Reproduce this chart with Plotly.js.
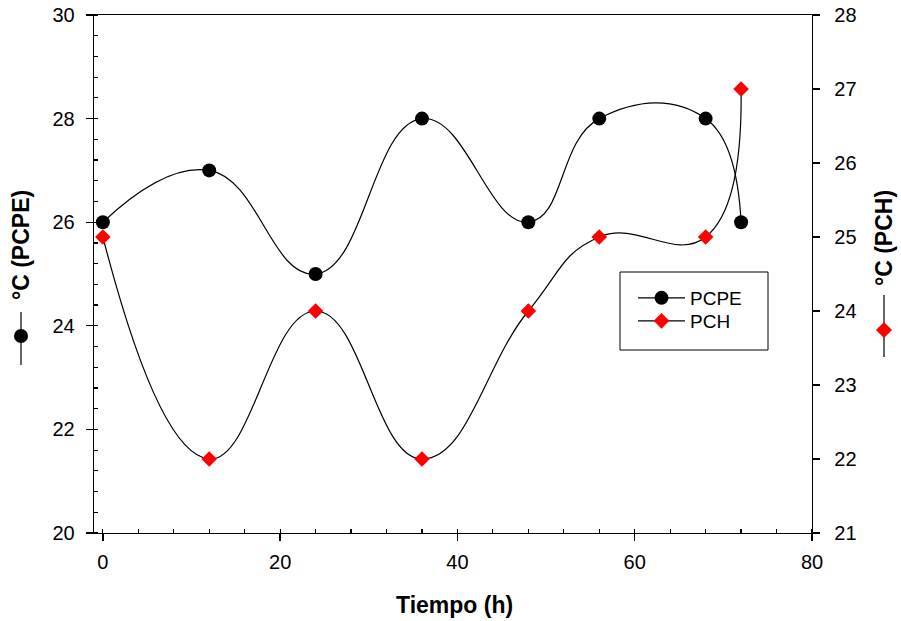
<!DOCTYPE html>
<html>
<head>
<meta charset="utf-8">
<script src="https://cdn.plot.ly/plotly-3.0.1.min.js"></script>
<style>html,body{margin:0;padding:0;background:#fff;}#chart{width:901px;height:621px;}</style>
</head>
<body>
<div id="chart"></div>
<script>
// Data
const tiempoH = [0, 12, 24, 36, 48, 56, 68, 72];
const pcpe = [26, 27, 25, 28, 26, 28, 28, 26];
const pch = [25, 22, 24, 22, 24, 25, 25, 27];
const seriesNames = ['PCPE', 'PCH'];
const xTitle = 'Tiempo (h)';
const yTitleLeft = '°C (PCPE)';
const yTitleRight = '°C (PCH)';

const FONT = 'Liberation Sans, Arial, sans-serif';
const L = 94, R = 812, T = 15, B = 533;
const W = 901, H = 621;
const px = v => (v - L) / (R - L);
const py = v => (B - v) / (B - T);

const traces = [
  {
    x: tiempoH, y: pcpe, name: seriesNames[0], type: 'scatter', mode: 'lines+markers',
    line: {color: '#000', width: 1.2, shape: 'spline', smoothing: 1.3},
    marker: {symbol: 'circle', size: 14, color: '#000'},
    xaxis: 'x', yaxis: 'y', legend: 'legend'
  },
  {
    x: tiempoH, y: pch, name: seriesNames[1], type: 'scatter', mode: 'lines+markers',
    line: {color: '#000', width: 1.2, shape: 'spline', smoothing: 1.3},
    marker: {symbol: 'diamond', size: 12, color: '#ff0000'},
    xaxis: 'x', yaxis: 'y2', legend: 'legend2'
  }
];

const legendBase = {
  xanchor: 'left', yanchor: 'top',
  bgcolor: 'rgba(0,0,0,0)', borderwidth: 0,
  font: {family: FONT, size: 19, color: '#000'},
  itemwidth: 47, tracegroupgap: 0
};

const layout = {
  width: W, height: H,
  margin: {l: L, r: W - R, t: T, b: H - B, pad: 0},
  paper_bgcolor: '#fff', plot_bgcolor: '#fff',
  font: {family: FONT, size: 20, color: '#000'},
  showlegend: true,
  legend: Object.assign({}, legendBase, {x: px(633), y: py(279)}),
  legend2: Object.assign({}, legendBase, {x: px(633), y: py(302)}),
  xaxis: {
    range: [-1, 80], dtick: 20, tick0: 0,
    showgrid: false, zeroline: false,
    showline: true, linecolor: '#000', linewidth: 1.3, mirror: true,
    ticks: 'outside', ticklen: 7, tickwidth: 1.3, tickcolor: '#000',
    tickfont: {family: FONT, size: 20, color: '#000'},
    ticklabelstandoff: 4,
    minor: {dtick: 4, tick0: 0, ticks: 'inside', ticklen: 4, tickwidth: 1.2, tickcolor: '#000', showgrid: false}
  },
  yaxis: {
    range: [20, 30], dtick: 2, tick0: 20,
    showgrid: false, zeroline: false,
    showline: true, linecolor: '#000', linewidth: 1.3, mirror: false,
    ticks: 'outside', ticklen: 7, tickwidth: 1.3, tickcolor: '#000',
    tickfont: {family: FONT, size: 20, color: '#000'},
    ticklabelstandoff: 7,
    minor: {dtick: 0.4, tick0: 20, ticks: 'inside', ticklen: 4, tickwidth: 1.2, tickcolor: '#000', showgrid: false}
  },
  yaxis2: {
    range: [21, 28], dtick: 1, tick0: 21,
    overlaying: 'y', side: 'right',
    showgrid: false, zeroline: false,
    showline: true, linecolor: '#000', linewidth: 1.3,
    ticks: 'outside', ticklen: 7, tickwidth: 1.3, tickcolor: '#000',
    tickfont: {family: FONT, size: 20, color: '#000'},
    ticklabelstandoff: 10
  },
  annotations: [
    {text: '<b>' + xTitle + '</b>', xref: 'paper', yref: 'paper', x: px(455), y: py(605),
     xanchor: 'center', yanchor: 'middle', showarrow: false,
     font: {family: FONT, size: 23, color: '#000'}},
    {text: '<b>' + yTitleLeft + '</b>', xref: 'paper', yref: 'paper', x: px(21), y: py(245),
     xanchor: 'center', yanchor: 'middle', textangle: -90, showarrow: false,
     font: {family: FONT, size: 23, color: '#000'}},
    {text: '<b>' + yTitleRight + '</b>', xref: 'paper', yref: 'paper', x: px(884), y: py(238),
     xanchor: 'center', yanchor: 'middle', textangle: -90, showarrow: false,
     font: {family: FONT, size: 23, color: '#000'}}
  ],
  shapes: [
    {type: 'rect', xref: 'paper', yref: 'paper', x0: px(620), x1: px(768), y0: py(272), y1: py(350),
     fillcolor: '#fff', line: {color: '#000', width: 1}, layer: 'above'},
    {type: 'line', xref: 'paper', yref: 'paper', x0: px(21), x1: px(21), y0: py(312), y1: py(365),
     line: {color: '#000', width: 1.2}},
    {type: 'circle', xref: 'paper', yref: 'paper', xsizemode: 'pixel', ysizemode: 'pixel',
     xanchor: px(21), yanchor: py(336), x0: -7, x1: 7, y0: -7, y1: 7,
     fillcolor: '#000', line: {color: '#000', width: 0}},
    {type: 'line', xref: 'paper', yref: 'paper', x0: px(884), x1: px(884), y0: py(295), y1: py(357),
     line: {color: '#000', width: 1.2}},
    {type: 'path', xref: 'paper', yref: 'paper', xsizemode: 'pixel', ysizemode: 'pixel',
     xanchor: px(884), yanchor: py(330), path: 'M 0 8 L 8 0 L 0 -8 L -8 0 Z',
     fillcolor: '#ff0000', line: {color: '#ff0000', width: 0}}
  ]
};

Plotly.newPlot('chart', traces, layout, {staticPlot: true, displayModeBar: false});
</script>
</body>
</html>
